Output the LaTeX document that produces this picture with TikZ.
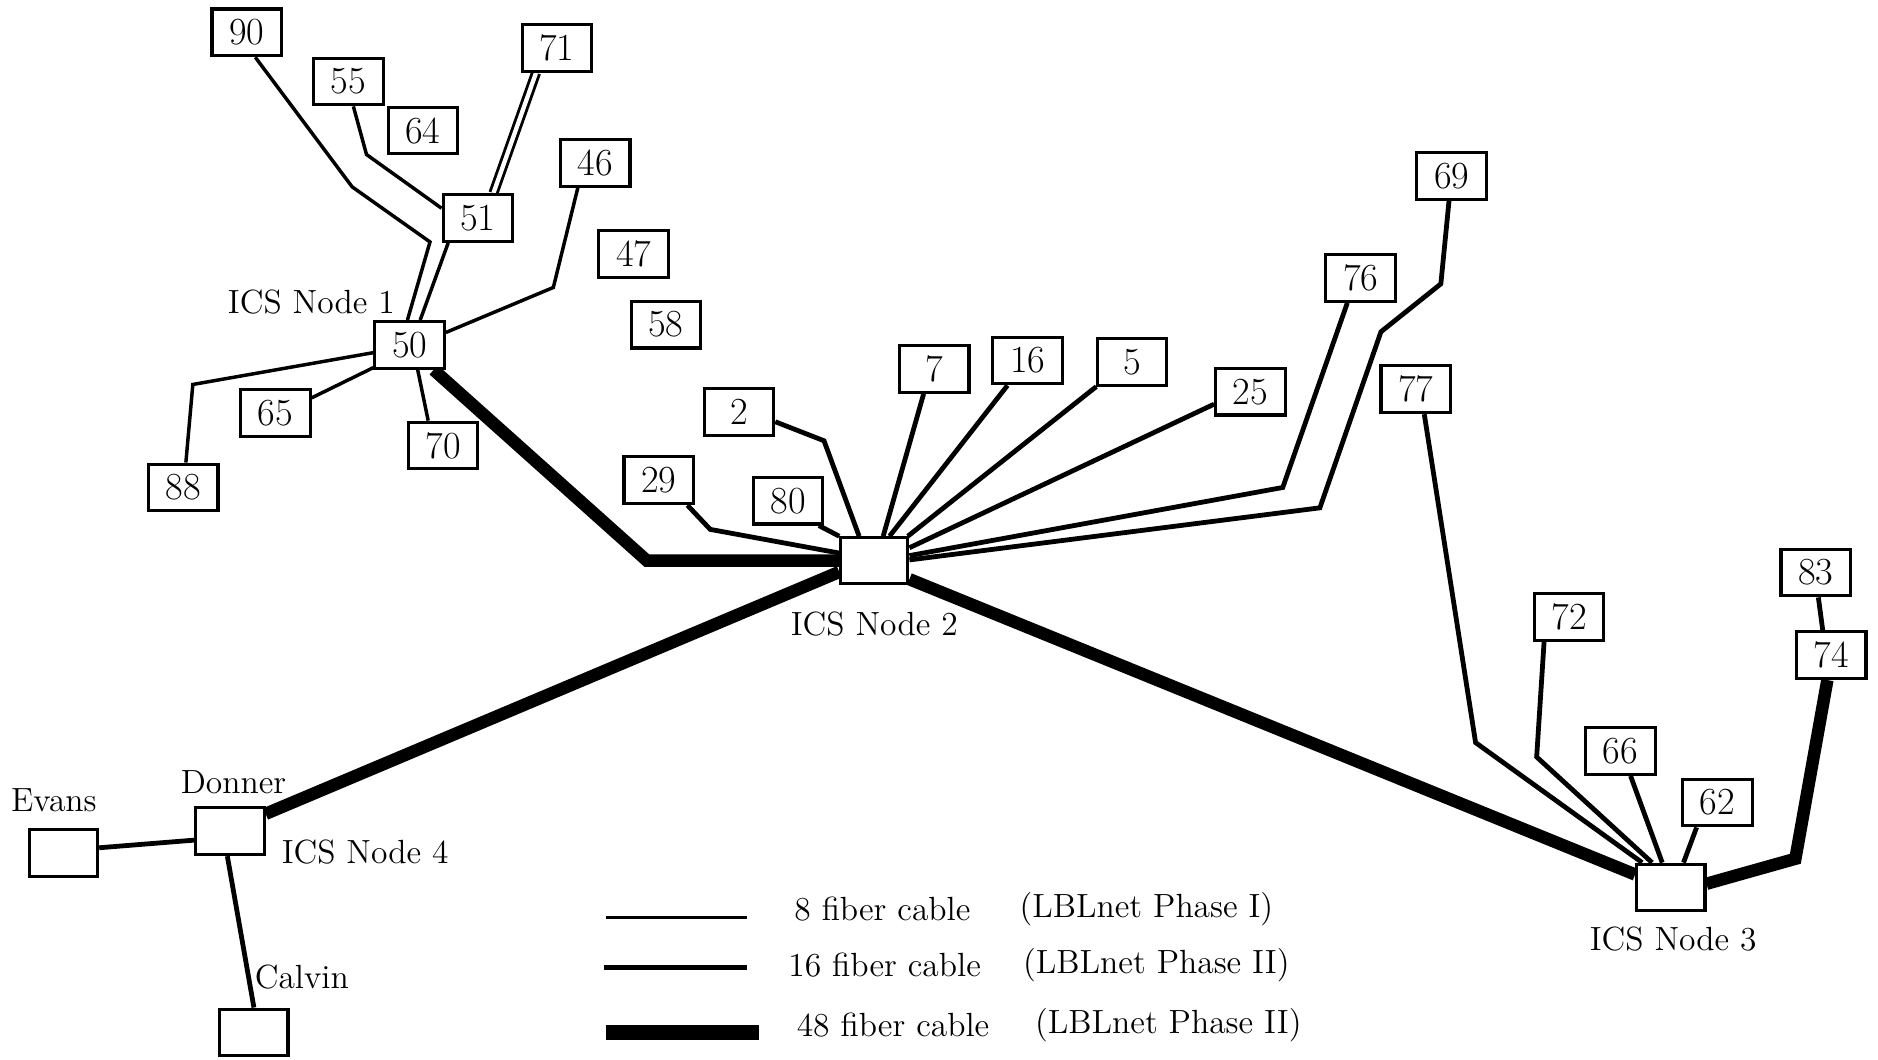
\documentclass[tikz,border=0pt]{standalone}
\usepackage{fontspec}
\usetikzlibrary{backgrounds}

\tikzset{every picture/.style={line width=0.75pt}}
\tikzset{
  numbox/.style={draw, line width=1.3pt, fill=white, minimum width=29pt, minimum height=19.5pt, inner sep=0pt, font=\fontsize{16}{19}\selectfont},
  hubbox/.style={draw, line width=1.3pt, fill=white, minimum width=28.5pt, minimum height=19.5pt, inner sep=0pt},
  lbl/.style={inner sep=0.75pt, font=\fontsize{14}{17}\selectfont},
  fiber8/.style={line width=1.45pt},
  fiber16/.style={line width=2pt},
  fiber48/.style={line width=5.2pt},
}

\begin{document}
\begin{tikzpicture}[x=0.5pt,y=0.5pt,yscale=-1,xscale=1]
\useasboundingbox (0,0) rectangle (1568,885);

%Boxes round ICS Node 1
\draw (206,27) node [numbox] (n90) {90};
\draw (291,68) node [numbox] (n55) {55};
\draw (353,109) node [numbox] (n64) {64};
\draw (465,40) node [numbox] (n71) {71};
\draw (497,136) node [numbox] (n46) {46};
\draw (399,182) node [numbox] (n51) {51};
\draw (529,212) node [numbox] (n47) {47};
\draw (556,271) node [numbox] (n58) {58};
\draw (342,288) node [numbox] (n50) {50};
\draw (230,345) node [numbox] (n65) {65};
\draw (370,372) node [numbox] (n70) {70};
\draw (153,407) node [numbox] (n88) {88};
%Boxes round ICS Node 2
\draw (617,344) node [numbox] (n2) {2};
\draw (550,401) node [numbox] (n29) {29};
\draw (658,418) node [numbox] (n80) {80};
\draw (780,308) node [numbox] (n7) {7};
\draw (858,301) node [numbox] (n16) {16};
\draw (945,302) node [numbox] (n5) {5};
\draw (1044,327) node [numbox] (n25) {25};
\draw (1136,232) node [numbox] (n76) {76};
\draw (1212,147) node [numbox] (n69) {69};
%Boxes round ICS Node 3
\draw (1182,325) node [numbox] (n77) {77};
\draw (1310,515) node [numbox] (n72) {72};
\draw (1516,478) node [numbox] (n83) {83};
\draw (1529,547) node [numbox] (n74) {74};
\draw (1353,627) node [numbox] (n66) {66};
\draw (1434,670) node [numbox] (n62) {62};
%Hubs
\draw (730,468) node [hubbox, minimum width=28pt, minimum height=19pt] (ics2) {};
\draw (1395,741) node [hubbox] (ics3) {};
\draw (192,694) node [hubbox] (ics4) {};
\draw (53,712) node [hubbox] (evans) {};
\draw (212,862) node [hubbox] (calvin) {};

% Text Node
\draw (260,252) node [lbl] (lblics1) {ICS Node 1};
% Text Node
\draw (730,521) node [lbl] (lblics2) {ICS Node 2};
% Text Node
\draw (1397,784) node [lbl] (lblics3) {ICS Node 3};
% Text Node
\draw (233,711) node [lbl, anchor=west] (lblics4) {ICS Node 4};
% Text Node
\draw (195,653) node [lbl] (lbldonner) {Donner};
% Text Node
\draw (45,668) node [lbl] (lblevans) {Evans};
% Text Node
\draw (252,816) node [lbl] (lblcalvin) {Calvin};

%Legend
\draw [fiber8] (506,766) -- (624,766);
\draw [fiber16] (504,808) -- (624,808);
\draw [line width=6pt] (506,862) -- (634,862);
% Text Node
\draw (661,759) node [lbl, anchor=west] (leg8) {8 fiber cable};
\draw (849,759) node [lbl, anchor=west] (leg8b) {(LBLnet Phase I)};
% Text Node
\draw (656,806) node [lbl, anchor=west] (leg16) {16 fiber cable};
\draw (852,806) node [lbl, anchor=west] (leg16b) {(LBLnet Phase II)};
% Text Node
\draw (663,856) node [lbl, anchor=west] (leg48) {48 fiber cable};
\draw (862,856) node [lbl, anchor=west] (leg48b) {(LBLnet Phase II)};

\begin{pgfonlayer}{background}
\fill [white] (0,0) rectangle (1568,885);
%Straight Lines round ICS Node 1
\draw [fiber8] (n90.-71) -- (294,156) -- (359,202) -- (n50.95);
\draw [fiber8] (n55.-79) -- (306,129) -- (n51.165);
\draw [line width=1.2pt, double, double distance=1.8pt] (n71.-130) -- (n51.58);
\draw [fiber8] (n51.-140) -- (n50.67);
\draw [fiber8] (n46.-125) -- (462,240) -- (n50.19);
\draw [fiber8] (n50.-168) -- (161,321) -- (n88.84);
\draw [fiber8] (n50.-148) -- (n65.23);
\draw [fiber8] (n50.-72) -- (n70.121);
%Straight Lines round ICS Node 2
\draw [fiber16] (n29.-41) -- (593,442) -- (ics2.168);
\draw [fiber16] (n80.-39) -- (ics2.north west);
\draw [fiber16] (n2.-15) -- (688,368) -- (ics2.122);
\draw [fiber16] (n7.-113) -- (ics2.70);
\draw [fiber16] (n16.-129) -- (ics2.58);
\draw [fiber16] (n5.-145) -- (ics2.36);
\draw [fiber16] (n25.-161) -- (ics2.20);
\draw [fiber16] (n76.-118) -- (1071,407) -- (ics2.8);
\draw [fiber16] (n69.-96) -- (1203,237) -- (1153,277) -- (1102,424) -- (ics2.1);
%Straight Lines round ICS Node 3
\draw [fiber16] (n77.-71) -- (1232,620) -- (ics3.139);
\draw [fiber16] (n72.-135) -- (1283,632) -- (ics3.127);
\draw [fiber16] (n66.-68) -- (ics3.109);
\draw [fiber16] (n62.-130) -- (ics3.63);
\draw [fiber16] (n83.-84) -- (n74.109);
%Straight Lines round ICS Node 4
\draw [fiber16] (evans.8) -- (ics4.-166);
\draw [fiber16] (ics4.-96) -- (calvin.north);
%48 fiber lines
\draw [fiber48] (n50.-46) -- (540,468) -- (ics2.west);
\draw [fiber48] (ics2.-28) -- (ics3.160);
\draw [fiber48] (ics2.-162) -- (ics4.26);
\draw [fiber48] (n74.-99) -- (1499,717) -- (ics3.6);
\end{pgfonlayer}

\end{tikzpicture}
\end{document}
